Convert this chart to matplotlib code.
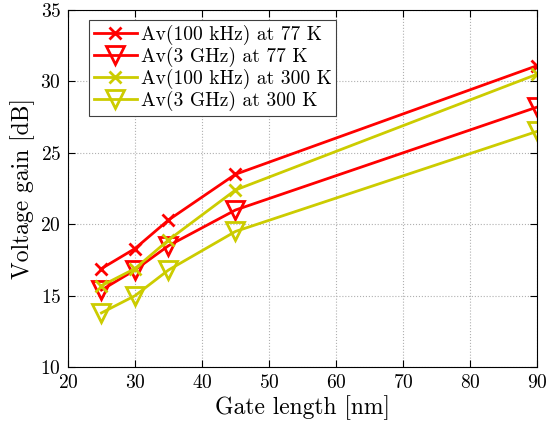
import matplotlib
matplotlib.use("Agg")
import matplotlib.pyplot as plt

# gate length [nm]
gate_length = [25, 30, 35, 45, 90]

# voltage gain [dB]
av_100k_77 = [16.9, 18.3, 20.3, 23.5, 31.1]
av_3g_77 = [15.4, 16.8, 18.5, 21.0, 28.2]
av_100k_300 = [15.7, 16.9, 18.9, 22.4, 30.5]
av_3g_300 = [13.8, 15.0, 16.8, 19.5, 26.5]

plt.rcParams['font.family'] = 'cmr10'
plt.rcParams['axes.formatter.use_mathtext'] = True
plt.rcParams['mathtext.fontset'] = 'cm'

red = (1.0, 0.0, 0.0)
yellow = (0.8, 0.8, 0.0)

fig = plt.figure(figsize=(5.48, 4.32), dpi=100)
ax = fig.add_axes([0.124, 0.150, 0.856, 0.827])

ax.plot(gate_length, av_100k_77, color=red, lw=2, marker='x', ms=8, mew=2,
        label='Av(100 kHz) at 77 K')
ax.plot(gate_length, av_3g_77, color=red, lw=2, marker='v', ms=13, mew=2,
        mfc='none', label='Av(3 GHz) at 77 K')
ax.plot(gate_length, av_100k_300, color=yellow, lw=2, marker='x', ms=8, mew=2,
        label='Av(100 kHz) at 300 K')
ax.plot(gate_length, av_3g_300, color=yellow, lw=2, marker='v', ms=13, mew=2,
        mfc='none', label='Av(3 GHz) at 300 K')

ax.set_xlim(20, 90)
ax.set_ylim(10, 35)
ax.set_xticks(range(20, 91, 10))
ax.set_yticks(range(10, 36, 5))
ax.grid(True, linestyle=':', color='#b0b0b0', lw=0.8)
ax.tick_params(direction='in', top=True, right=True, labelsize=14, length=5, pad=5)
for s in ax.spines.values():
    s.set_linewidth(0.8)

ax.set_xlabel('Gate length [nm]', fontsize=17, labelpad=2)
ax.set_ylabel('Voltage gain [dB]', fontsize=17, labelpad=4)

leg = ax.legend(loc='upper left', bbox_to_anchor=(0.045, 0.972), borderaxespad=0,
                fontsize=14, fancybox=False, framealpha=1, edgecolor='#404040',
                handlelength=2.2, handletextpad=0.2, labelspacing=0.1, borderpad=0.25)
leg.get_frame().set_linewidth(0.8)

fig.savefig('out.png', dpi=100)
